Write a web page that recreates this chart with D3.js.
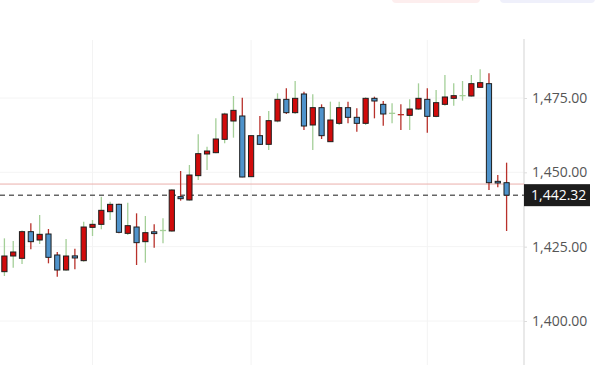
<!DOCTYPE html>
<html><head><meta charset="utf-8">
<script src="https://cdn.jsdelivr.net/npm/d3@7"></script>
<style>body{margin:0;background:#fff}svg{display:block}</style>
</head><body>
<script>
const opens  = [1416.59,1421.86,1421.08,1430.04,1427.24,1429.26,1422.20,1417.15,1421.90,1420.29,
                1431.50,1432.51,1436.77,1439.24,1429.48,1431.61,1426.68,1430.00,1430.38,1430.27,
                1441.82,1440.70,1448.88,1456.17,1456.61,1461.10,1467.26,1468.95,1448.54,1462.33,
                1459.42,1467.26,1474.55,1470.07,1476.35,1465.92,1471.75,1460.31,1466.48,1471.75,
                1468.50,1466.48,1474.89,1472.87,1469.73,1469.51,1469.17,1471.30,1474.55,1468.83,
                1472.87,1474.89,1475.67,1475.67,1478.59,1479.82,1446.97,1446.52];
const highs  = [1427.80,1426.91,1430.40,1432.85,1435.65,1430.94,1423.20,1427.58,1424.33,1433.41,
                1433.97,1441.82,1440.10,1439.45,1439.80,1436.21,1435.31,1432.51,1434.53,1444.28,
                1450.45,1452.47,1462.78,1458.63,1468.16,1470.07,1475.67,1475.11,1462.44,1468.95,
                1470.63,1476.57,1478.25,1480.72,1477.13,1476.23,1472.87,1473.77,1473.77,1473.77,
                1471.52,1475.22,1475.45,1473.99,1473.21,1472.87,1474.55,1479.93,1478.25,1477.69,
                1482.74,1479.93,1480.72,1482.74,1484.64,1483.30,1449.10,1453.25];
const lows   = [1415.13,1417.94,1419.17,1424.10,1425.90,1419.40,1414.91,1416.93,1417.38,1419.96,
                1428.59,1430.83,1433.97,1429.48,1428.92,1418.83,1419.62,1424.66,1426.12,1430.04,
                1440.47,1440.47,1447.42,1450.78,1456.39,1459.75,1461.66,1448.32,1448.43,1459.19,
                1457.51,1466.82,1469.62,1469.62,1464.24,1457.51,1461.21,1460.31,1465.92,1466.48,
                1463.68,1465.92,1468.16,1465.70,1466.48,1464.24,1464.24,1470.96,1463.34,1468.50,
                1472.42,1472.42,1474.10,1475.45,1478.59,1444.06,1444.96,1430.27];
const closes = [1421.86,1423.21,1430.04,1426.68,1429.15,1421.41,1417.15,1421.86,1421.20,1431.61,
                1432.51,1437.22,1439.24,1429.82,1432.06,1426.35,1429.71,1429.40,1430.49,1444.06,
                1441.14,1449.10,1456.28,1457.17,1461.21,1469.62,1470.85,1448.43,1462.33,1459.42,
                1467.38,1474.55,1470.07,1474.89,1465.58,1471.75,1462.33,1467.60,1471.75,1468.50,
                1466.48,1474.89,1473.99,1469.62,1469.96,1469.28,1471.30,1474.89,1468.83,1473.43,
                1475.34,1475.78,1475.90,1479.82,1480.16,1446.52,1446.41,1442.32];
const yTicks = [1400, 1425, 1450, 1475];
const lastPrice = 1442.32;
const prevClose = 1446.06;
const gridBars = [10, 28, 48];

const W = 602, H = 365;
const plotRight = 524;
const svg = d3.select("body").append("svg").attr("width", W).attr("height", H);

// faint cut-off header buttons
svg.append("rect").attr("x",392).attr("y",-6).attr("width",88).attr("height",9).attr("rx",4).attr("fill","#fdeeee");
svg.append("rect").attr("x",500).attr("y",-6).attr("width",95).attr("height",9).attr("rx",4).attr("fill","#eff0fb");

const idx = d3.range(opens.length);
const x = d3.scaleBand().domain(idx).range([0, 511]).padding(0);
const y = d3.scaleLinear().domain([1400, 1475]).range([321, 98]);

// grid
svg.append("g").selectAll("line").data(yTicks).join("line")
  .attr("x1",0).attr("x2",plotRight).attr("y1",d=>y(d)).attr("y2",d=>y(d))
  .attr("stroke","#f4f4f4").attr("stroke-width",1);
svg.append("g").selectAll("line").data(gridBars).join("line")
  .attr("x1",d=>x(d)+x.bandwidth()/2).attr("x2",d=>x(d)+x.bandwidth()/2)
  .attr("y1",40).attr("y2",H).attr("stroke","#f3f3f3");

// axis line
svg.append("line").attr("x1",plotRight).attr("x2",plotRight).attr("y1",39).attr("y2",H)
  .attr("stroke","#e2e2e2").attr("stroke-width",1.5);

// prev close line
svg.append("line").attr("x1",0).attr("x2",plotRight).attr("y1",y(prevClose)).attr("y2",y(prevClose))
  .attr("stroke","#eab0ac").attr("stroke-width",1);

// last price dashed
svg.append("line").attr("x1",0).attr("x2",plotRight).attr("y1",y(lastPrice)).attr("y2",y(lastPrice))
  .attr("stroke","#666").attr("stroke-width",1.5).attr("stroke-dasharray","5,4");

const data = idx.map(i => ({i, o:opens[i], h:highs[i], l:lows[i], c:closes[i], pc: i>0?closes[i-1]:opens[i]}));
const cx = d => x(d.i) + x.bandwidth()/2;
const wickCol = d => d.c > d.pc ? "#a4cf98" : "#b8312b";
const bw = 5.2;

const g = svg.append("g");
g.selectAll(".wick").data(data).join("line")
  .attr("x1",cx).attr("x2",cx).attr("y1",d=>y(d.h)).attr("y2",d=>y(d.l))
  .attr("stroke",wickCol).attr("stroke-width",1.3);

const isDoji = d => Math.abs(y(d.o)-y(d.c)) < 1.2;
g.selectAll(".body").data(data.filter(d=>!isDoji(d))).join("rect")
  .attr("x",d=>cx(d)-bw/2).attr("width",bw)
  .attr("y",d=>y(Math.max(d.o,d.c))).attr("height",d=>Math.abs(y(d.o)-y(d.c)))
  .attr("fill",d=>d.c>=d.o ? "#d10b0b" : "#4f93cb")
  .attr("stroke","#1e1e1e").attr("stroke-width",1);
g.selectAll(".cross").data(data.filter(isDoji)).join("line")
  .attr("x1",d=>cx(d)-bw/2-0.5).attr("x2",d=>cx(d)+bw/2+0.5)
  .attr("y1",d=>y((d.o+d.c)/2)).attr("y2",d=>y((d.o+d.c)/2))
  .attr("stroke",wickCol).attr("stroke-width",1.3);

// y axis
const fmt = d3.format(",.2f");
const axis = d3.axisRight(y).tickValues(yTicks).tickSize(3).tickPadding(5).tickFormat(fmt);
const ag = svg.append("g").attr("transform",`translate(${plotRight},0)`).call(axis);
ag.select(".domain").remove();
ag.selectAll(".tick line").attr("stroke","#ddd");
ag.selectAll(".tick text").attr("fill","#555").style("font-family","'Open Sans', sans-serif").style("font-size","14px");

// last price label
const ly = y(lastPrice);
svg.append("rect").attr("x",plotRight).attr("y",ly-11).attr("width",66).attr("height",22).attr("fill","#1c1c1c");
svg.append("text").attr("x",plotRight+7).attr("y",ly).attr("dy","0.35em")
  .attr("fill","#fff").style("font-family","'Open Sans', sans-serif").style("font-size","14px")
  .text(fmt(lastPrice));
</script>
</body></html>
